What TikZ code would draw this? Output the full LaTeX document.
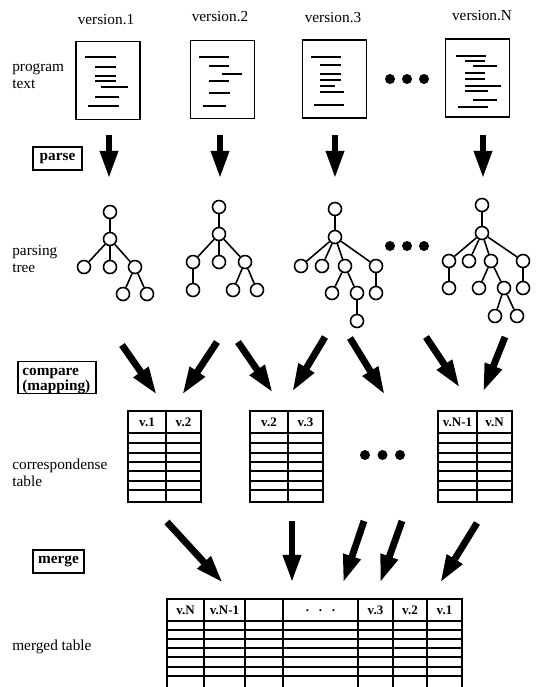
\documentclass[tikz,border=0pt]{standalone}
\usepackage{fontspec}
\setmainfont{Liberation Serif}
\usetikzlibrary{arrows.meta}
\begin{document}
\begin{tikzpicture}[x=0.02cm,y=-0.02cm,
  lbl/.style={font=\fontsize{8.7}{9.8}\selectfont, align=left, anchor=west, inner sep=0pt},
  ver/.style={font=\fontsize{8.7}{9.8}\selectfont, inner sep=0pt},
  cmd/.style={draw, line width=1pt, font=\bfseries\fontsize{8.7}{9}\selectfont, inner sep=0pt},
  doc/.style={draw, line width=1.1pt, minimum width=1.28cm, minimum height=1.56cm, inner sep=0pt},
  txt/.style={line width=1.1pt},
  tn/.style={circle, draw, line width=0.9pt, minimum size=0.26cm, inner sep=0pt},
  tl/.style={line width=0.9pt},
  tab/.style={line width=0.8pt},
  hd/.style={font=\bfseries\fontsize{7.4}{8}\selectfont, inner sep=0pt},
  bigarrow/.style={line width=3.9pt, -{Triangle[length=16pt,width=9.5pt]}}]
\useasboundingbox (0,0) rectangle (537,687);

\node[ver] (v1) at (106,20) {version.1};
\node[ver] (v2) at (220,17) {version.2};
\node[ver] (v3) at (333,18) {version.3};
\node[ver] (vN) at (482,16) {version.N};

\node[lbl] (prog) at (12,76) {program\\text};
\node[cmd, minimum width=0.98cm, minimum height=0.46cm] (parse) at (57.5,158.5) {parse};
\node[lbl] (ptree) at (12,259) {parsing\\tree};
\node[cmd, minimum width=1.56cm, minimum height=0.64cm] (cmp) at (57,377.5) {};
\node[lbl, font=\bfseries\fontsize{8.7}{8.8}\selectfont] (cmpt) at (22,381) {compare\\(mapping)};
\node[lbl] (ctab) at (12,473) {correspondense\\table};
\node[cmd, minimum width=1.02cm, minimum height=0.46cm] (merge) at (58.5,561.5) {merge};
\node[lbl] (mtab) at (12,647) {merged table};

\node[doc] (d1) at (108,80.5) {};
\node[doc] (d2) at (222.5,79.5) {};
\node[doc] (d3) at (334.5,79) {};
\node[doc] (dN) at (477.5,78) {};
\foreach \a/\b/\y in {85/116/57, 95/116/67, 95/116/76, 95/116/81, 101/128/87, 95/119/97, 88/119/106,
  199/229/57, 209/229/66, 222/242/74, 209/229/81, 209/230/93, 203/226/106,
  311/341/57, 320/341/65, 320/341/74, 320/341/80, 320/335/86, 320/344/92, 314/344/105,
  456/486/56, 465/485/61, 473/497/66, 465/485/73, 465/485/79, 465/501/86, 465/488/91, 473/497/100, 458/488/107}
  \draw[txt] (\a,\y) -- (\b,\y);
\foreach \x in {390,407,424} \fill (\x,79) circle (0.1cm);

\foreach \n/\a/\b/\c/\d in {p1/109/135/109/179, p2/220/135/220/179, p3/335/135/335/179, p4/483/135/483/179,
  c1/122/345/157/395, c2/217/342/182/395, c3/238/342/273/393, c4/325/337/292/392,
  c5/350/338/385/395, c6/426/337/460/388, c7/505/337/483/392,
  m1/167/522/223/583, m2/292/521/292/583, m3/364/521/343/583, m4/402/521/380/583, m5/477/523/440/583}
  {\coordinate (s\n) at (\a,\b); \coordinate (e\n) at (\c,\d); \draw[bigarrow] (s\n) -- (e\n);}

\foreach \n/\x/\y in {t1a/110/212, t1b/110/239, t1c/84/267, t1d/110/267, t1e/135/267, t1f/123/294, t1g/147/294,
  t2a/219/207, t2b/219/234, t2c/193/262, t2d/219/262, t2e/245/262, t2f/193/290, t2g/233/290, t2h/257/290,
  t3a/335/209, t3b/335/237, t3c/301/266, t3d/322/266, t3e/345/266, t3f/376/266, t3g/332/293, t3h/357/293,
  t3i/376/293, t3j/357/321,
  tNa/482/205, tNb/482/233, tNc/449/261, tNd/469/261, tNe/491/261, tNf/523/261, tNg/449/288, tNh/479/288,
  tNi/504/288, tNj/523/288, tNk/495/316, tNl/517/316}
  \node[tn] (\n) at (\x,\y) {};
\foreach \a/\b in {t1a/t1b, t1b/t1c, t1b/t1d, t1b/t1e, t1e/t1f, t1e/t1g,
  t2a/t2b, t2b/t2c, t2b/t2d, t2b/t2e, t2c/t2f, t2e/t2g, t2e/t2h,
  t3a/t3b, t3b/t3c, t3b/t3d, t3b/t3e, t3b/t3f, t3e/t3g, t3e/t3h, t3f/t3i, t3h/t3j,
  tNa/tNb, tNb/tNc, tNb/tNd, tNb/tNe, tNb/tNf, tNc/tNg, tNe/tNh, tNe/tNi, tNf/tNj, tNi/tNk, tNi/tNl}
  \draw[tl] (\a) -- (\b);
\foreach \x in {390,407,424} \fill (\x,246) circle (0.1cm);

\foreach \l/\m/\r/\p/\q [count=\i] in {128/166/201/v.1/v.2, 250/288/323/v.2/v.3, 438/477/512/v.N-1/v.N} {
  \draw[tab] (\l,411) rectangle (\r,502);
  \draw[tab] (\m,411) -- (\m,502);
  \foreach \y in {433,443,453,462,471,481,490} \draw[tab] (\l,\y) -- (\r,\y);
  \node[hd] (h\i a) at ({(\l+\m)/2},422.5) {\p};
  \node[hd] (h\i b) at ({(\m+\r)/2},422.5) {\q};
}
\foreach \x in {365,382.5,400} \fill (\x,455) circle (0.1cm);

\draw[tab] (167,687) -- (167,599) -- (462,599) -- (462,687);
\foreach \x in {204,245,283,358,393,427} \draw[tab] (\x,599) -- (\x,687);
\foreach \y in {621,630,639,648,657,667,676} \draw[tab] (167,\y) -- (462,\y);
\node[hd] (g1) at (185.5,610) {v.N};
\node[hd] (g2) at (224.5,610) {v.N-1};
\node[hd] (g3) at (320.5,611) {.\hspace{0.75em}.\hspace{0.75em}.};
\node[hd] (g4) at (375.5,610) {v.3};
\node[hd] (g5) at (410,610) {v.2};
\node[hd] (g6) at (444.5,610) {v.1};
\end{tikzpicture}
\end{document}
